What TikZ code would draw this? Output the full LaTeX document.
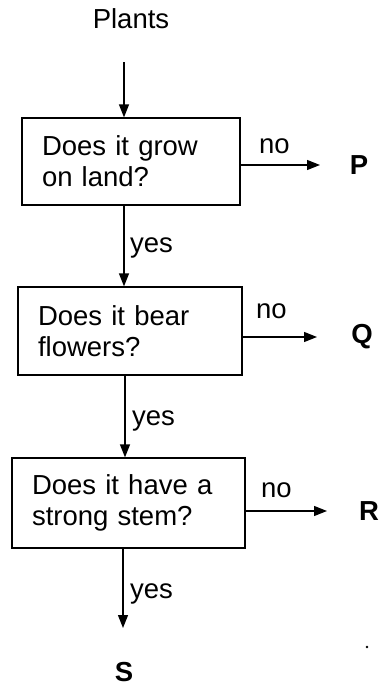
\documentclass[tikz,border=0pt]{standalone}
\usepackage{fontspec}
\setmainfont{Liberation Sans}
\usetikzlibrary{arrows.meta}
\begin{document}
\begin{tikzpicture}[x=1pt,y=-1pt,
  every node/.style={font=\fontsize{27.5}{31}\selectfont},
  qbox/.style={draw, line width=1.2pt, align=left, inner xsep=20pt, inner ysep=0pt, anchor=center},
  arr/.style={line width=1.3pt, -{Triangle[length=13pt,width=10pt]}},
  lbl/.style={inner sep=0pt, anchor=base west},
  res/.style={inner sep=0pt, font=\fontsize{27.5}{31}\selectfont\bfseries}]
\useasboundingbox (0,0) rectangle (384,689);

\node[inner sep=0pt] (plants) at (131,19) {Plants};

\node[qbox, text width=178pt, minimum height=87pt] (b1) at (131,161.5) {Does it grow\\on land?};
\node[qbox, text width=184pt, minimum height=88pt] (b2) at (130,331) {Does it bear\\flowers?};
\node[qbox, text width=193pt, minimum height=90pt] (b3) at (128.5,503) {Does it have a\\strong stem?};

\node[res] (P) at (359,165) {P};
\node[res] (Q) at (362,337) {Q};
\node[res] (R) at (369,511) {R};
\node[res] (S) at (124,672) {S};

\coordinate (a0) at (124,62);
\coordinate (x1) at (124,0);
\coordinate (x2) at (125,0);
\coordinate (x3) at (123,0);

\draw[arr] (a0) -- (a0 |- b1.north);
\draw[arr] (x1 |- b1.south) -- (x1 |- b2.north);
\draw[arr] (x2 |- b2.south) -- (x2 |- b3.north);
\draw[arr, shorten >=44pt] (x3 |- b3.south) -- (x3 |- S.center);

\draw[arr, shorten >=39pt] (b1.east |- P) -- (P.center);
\draw[arr, shorten >=45pt] (b2.east |- Q) -- (Q.center);
\draw[arr, shorten >=42pt] (b3.east |- R) -- (R.center);

\node[lbl] (n1) at (259,153) {no};
\node[lbl] (n2) at (256,318) {no};
\node[lbl] (n3) at (261,497) {no};

\node[lbl] (y1) at (130,252) {yes};
\node[lbl] (y2) at (132,425) {yes};
\node[lbl] (y3) at (130,598) {yes};

\fill (367,647) circle (1.3pt);
\end{tikzpicture}
\end{document}
